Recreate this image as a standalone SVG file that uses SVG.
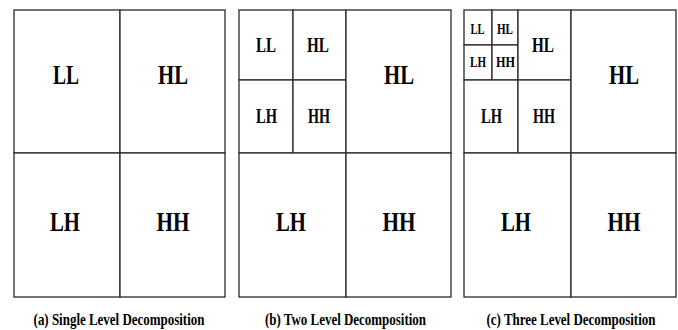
<svg xmlns="http://www.w3.org/2000/svg" width="678" height="330" viewBox="0 0 678 330">
<style>
rect { fill: #ffffff; stroke: #2a2a2a; stroke-width: 1.3; }
text { font-family: "Liberation Serif", "DejaVu Serif", serif; fill: #000; text-anchor: middle; }
.big { font-size: 28px; font-weight: bold; }
.mid { font-size: 21px; font-weight: bold; }
.tiny { font-size: 15px; font-weight: bold; }
.cap { font-size: 16px; font-weight: bold; }
</style>
<rect x="0" y="0" width="678" height="330" style="stroke:none"/>
<g id="panel-a">
  <g id="a-LL"><rect x="14" y="10" width="106" height="143"/><text class="big" x="66" y="84" textLength="26" lengthAdjust="spacingAndGlyphs">LL</text></g>
  <g id="a-HL"><rect x="120" y="10" width="105" height="143"/><text class="big" x="173" y="84" textLength="30" lengthAdjust="spacingAndGlyphs">HL</text></g>
  <g id="a-LH"><rect x="14" y="153" width="106" height="144"/><text class="big" x="65" y="231" textLength="30" lengthAdjust="spacingAndGlyphs">LH</text></g>
  <g id="a-HH"><rect x="120" y="153" width="105" height="144"/><text class="big" x="173" y="231" textLength="33" lengthAdjust="spacingAndGlyphs">HH</text></g>
  <text id="caption-a" class="cap" transform="translate(119,325) scale(0.81,1)" x="0" y="0">(a) Single Level Decomposition</text>
</g>
<g id="panel-b">
  <g id="b-LL"><rect x="239" y="10" width="54" height="70"/><text class="mid" x="266" y="52" textLength="20" lengthAdjust="spacingAndGlyphs">LL</text></g>
  <g id="b-HL2"><rect x="293" y="10" width="53" height="70"/><text class="mid" x="318" y="52" textLength="22" lengthAdjust="spacingAndGlyphs">HL</text></g>
  <g id="b-LH2"><rect x="239" y="80" width="54" height="73"/><text class="mid" x="266.5" y="123" textLength="21" lengthAdjust="spacingAndGlyphs">LH</text></g>
  <g id="b-HH2"><rect x="293" y="80" width="53" height="73"/><text class="mid" x="319" y="123" textLength="22" lengthAdjust="spacingAndGlyphs">HH</text></g>
  <g id="b-HL"><rect x="346" y="10" width="105" height="143"/><text class="big" x="399" y="84" textLength="30" lengthAdjust="spacingAndGlyphs">HL</text></g>
  <g id="b-LH"><rect x="239" y="153" width="107" height="144"/><text class="big" x="291" y="231" textLength="30" lengthAdjust="spacingAndGlyphs">LH</text></g>
  <g id="b-HH"><rect x="346" y="153" width="105" height="144"/><text class="big" x="399" y="231" textLength="33" lengthAdjust="spacingAndGlyphs">HH</text></g>
  <text id="caption-b" class="cap" transform="translate(345.5,325) scale(0.81,1)" x="0" y="0">(b) Two Level Decomposition</text>
</g>
<g id="panel-c">
  <g id="c-LL3"><rect x="464" y="10" width="28" height="35"/><text class="tiny" x="477.5" y="34" textLength="14" lengthAdjust="spacingAndGlyphs">LL</text></g>
  <g id="c-HL3"><rect x="492" y="10" width="26" height="35"/><text class="tiny" x="505" y="34" textLength="16" lengthAdjust="spacingAndGlyphs">HL</text></g>
  <g id="c-LH3"><rect x="464" y="45" width="28" height="35"/><text class="tiny" x="478" y="67" textLength="16" lengthAdjust="spacingAndGlyphs">LH</text></g>
  <g id="c-HH3"><rect x="492" y="45" width="26" height="35"/><text class="tiny" x="505.5" y="67" textLength="19" lengthAdjust="spacingAndGlyphs">HH</text></g>
  <g id="c-HL2"><rect x="518" y="10" width="53" height="70"/><text class="mid" x="543" y="52" textLength="22" lengthAdjust="spacingAndGlyphs">HL</text></g>
  <g id="c-LH2"><rect x="464" y="80" width="54" height="73"/><text class="mid" x="491.5" y="123" textLength="21" lengthAdjust="spacingAndGlyphs">LH</text></g>
  <g id="c-HH2"><rect x="518" y="80" width="53" height="73"/><text class="mid" x="544" y="123" textLength="22" lengthAdjust="spacingAndGlyphs">HH</text></g>
  <g id="c-HL"><rect x="571" y="10" width="105" height="143"/><text class="big" x="624" y="84" textLength="30" lengthAdjust="spacingAndGlyphs">HL</text></g>
  <g id="c-LH"><rect x="464" y="153" width="107" height="144"/><text class="big" x="516" y="231" textLength="30" lengthAdjust="spacingAndGlyphs">LH</text></g>
  <g id="c-HH"><rect x="571" y="153" width="105" height="144"/><text class="big" x="624" y="231" textLength="33" lengthAdjust="spacingAndGlyphs">HH</text></g>
  <text id="caption-c" class="cap" transform="translate(571,325) scale(0.81,1)" x="0" y="0">(c) Three Level Decomposition</text>
</g>
<g id="connectors"/>
</svg>
